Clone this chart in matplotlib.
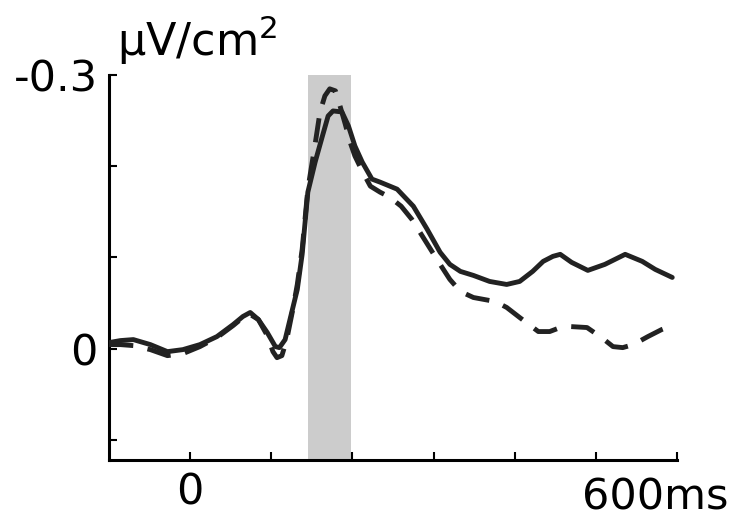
import matplotlib
matplotlib.use("Agg")
import matplotlib.pyplot as plt

# Time axis (ms) and current source density (µV/cm²), negative plotted upward
t_solid = [-100, -86, -70, -49, -28, -9, 12, 33, 53, 65, 74, 84, 95, 105, 110, 117,
           126, 132, 138, 145, 154, 163, 170, 176, 187, 195, 203, 212, 224, 234, 255,
           275, 292, 308, 320, 333, 349, 369, 390, 406, 422, 435, 447, 456, 470, 490,
           511, 536, 557, 573, 594]
v_solid = [-0.0066, -0.0088, -0.0099, -0.0044, 0.0033, 0.0011, -0.0044, -0.0132,
           -0.0264, -0.0352, -0.0396, -0.0319, -0.0176, -0.0022, -0.0011, -0.0099,
           -0.0429, -0.0648, -0.1033, -0.1714, -0.2044, -0.233, -0.2549, -0.2604,
           -0.2593, -0.244, -0.222, -0.2044, -0.1857, -0.1824, -0.1747, -0.156,
           -0.1308, -0.1055, -0.0923, -0.0846, -0.0802, -0.0736, -0.0703, -0.0736,
           -0.0846, -0.0956, -0.1011, -0.1033, -0.0945, -0.0857, -0.0923, -0.1033,
           -0.0956, -0.0868, -0.078]

t_dashed = [-100, -86, -70, -49, -28, -9, 12, 33, 53, 65, 74, 84, 95, 102, 107, 113,
            119, 126, 132, 138, 145, 154, 160, 166, 172, 179, 185, 191, 197, 203, 212,
            222, 234, 246, 260, 273, 287, 304, 320, 333, 349, 376, 390, 406, 429, 443,
            456, 468, 489, 507, 521, 533, 546, 564, 581, 594]
v_dashed = [-0.0044, -0.0044, -0.0033, 0.0011, 0.0077, 0.0055, -0.0022, -0.0121,
            -0.0253, -0.0341, -0.0374, -0.0319, -0.0143, 0.0033, 0.0099, 0.0077,
            -0.0099, -0.0407, -0.0703, -0.1088, -0.1747, -0.2242, -0.2593, -0.2769,
            -0.2846, -0.2824, -0.2648, -0.2462, -0.2264, -0.211, -0.1945, -0.178,
            -0.1714, -0.1659, -0.156, -0.1418, -0.122, -0.0978, -0.0758, -0.0626,
            -0.056, -0.0516, -0.0451, -0.0341, -0.0187, -0.0187, -0.0231, -0.0242,
            -0.0231, -0.0121, -0.0022, -0.0011, -0.0044, -0.0132, -0.0209, -0.0253]

# Analysis window
window = [145, 198]

x_ticks = [0, 100, 200, 300, 400, 500, 600]
x_labels = ["0", "", "", "", "", "", ""]
y_ticks = [-0.3, -0.2, -0.1, 0.0, 0.1]
y_labels = ["-0.3", "", "", "0", ""]

ink = "#222222"
fs = 31

fig = plt.figure(figsize=(7.34, 5.23), dpi=100)
ax = fig.add_axes([0.1485, 0.1205, 0.774, 0.7365])

ax.axvspan(window[0], window[1], color="#cccccc", lw=0, zorder=0)

ln_d, = ax.plot(t_dashed, v_dashed, color=ink, lw=3.5, zorder=3,
                dash_capstyle="butt", dash_joinstyle="round")
ln_d.set_dashes((5, 3))
ax.plot(t_solid, v_solid, color=ink, lw=3.5, zorder=4,
        solid_joinstyle="round", solid_capstyle="round")

ax.set_xlim(-100, 600)
ax.set_ylim(0.122, -0.3)

for side in ("top", "right"):
    ax.spines[side].set_visible(False)
for side in ("left", "bottom"):
    ax.spines[side].set_linewidth(2.2)
    ax.spines[side].set_color("black")

ax.set_xticks(x_ticks)
ax.set_xticklabels(x_labels)
ax.set_yticks(y_ticks)
ax.set_yticklabels(y_labels)
ax.tick_params(axis="both", direction="in", length=6, width=1.5, labelsize=fs,
               colors="black", pad=8)

# end-of-axis time label
ax.text(573, 0.122 + 0.018, "600ms", fontsize=fs, ha="center", va="top")

# unit label above the y axis
ax.text(0.014, 1.02, "µV/cm$^2$", fontsize=32, ha="left", va="bottom",
        transform=ax.transAxes)

fig.savefig("out.png", dpi=100)
